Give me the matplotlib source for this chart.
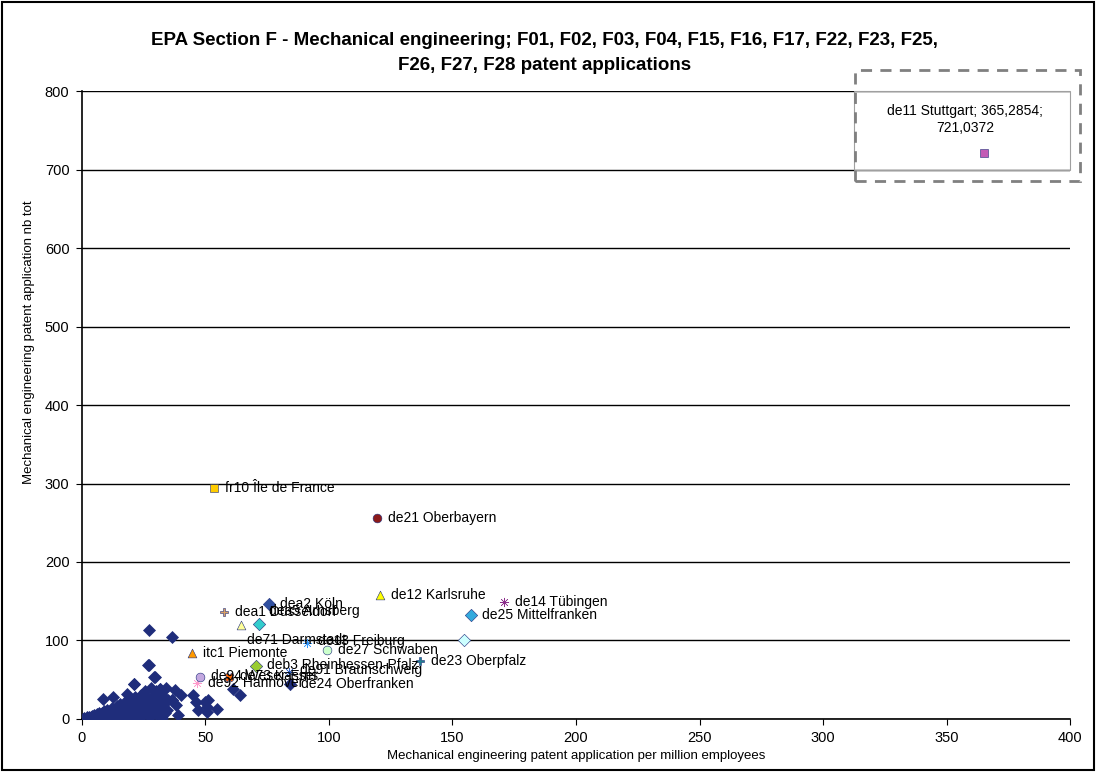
import numpy as np
import matplotlib
matplotlib.use("Agg")
import matplotlib.pyplot as plt
from matplotlib.patches import Rectangle

plt.rcParams['font.family'] = ['Liberation Sans', 'DejaVu Sans']

# unlabelled regions (series 1, navy diamonds)
cluster_x = [0.5, 1, 1.5, 2, 2.5, 3, 3, 3.5, 4, 4, 4.5, 5, 5, 5.5, 6, 6, 6.5, 7, 7, 7.5,
             8, 8, 8.5, 9, 9, 9.5, 10, 10, 10.5, 11, 11, 11.5, 12, 12, 12.5, 13, 13, 13.5,
             14, 14, 14.5, 15, 15, 15.5, 16, 16, 16.5, 17, 17, 17.5, 18, 18, 18.5, 19, 19,
             19.5, 20, 20, 20.5, 21, 21, 21.5, 22, 22, 22.5, 23, 23, 23.5, 24, 24, 24.5, 25,
             25, 25.5, 26, 26, 26.5, 27, 27, 27, 27.5, 28, 28, 28.5, 29, 29, 29.5, 30, 30,
             30.5, 31, 31.5, 32, 32.5, 32.8, 33, 33.5, 34, 34.5, 35, 36.5, 36.5, 37.7, 38,
             39, 40, 45, 46, 47, 49.8, 50.6, 51, 54.7, 61, 64, 50.6, 26.7, 29.6, 21, 18.2,
             8.6, 12.6, 31.6, 33.2, 36.4]
cluster_y = [0.5, 1, 0.5, 2, 1, 3, 0.5, 2, 4, 1, 2.5, 5, 1.5, 3, 6, 2, 4, 7, 1, 3.5,
             8, 2.5, 5, 10, 1.5, 6, 12, 3, 7, 9, 1, 4, 14, 6, 2, 11, 8, 4.5,
             17, 1.5, 9, 13, 5, 19, 7, 2, 15, 10, 4, 22, 12, 1, 17, 6, 25,
             14, 9, 3, 20, 45, 11, 28, 16, 5, 24, 8, 2, 19, 13, 30, 4, 22,
             10, 35, 17, 7, 28, 113, 69, 13, 3, 40, 24, 10, 53, 31, 18, 6, 36,
             26, 14, 38, 22, 1, 20, 28, 8, 39, 12, 24, 104, 24, 37, 18,
             5, 30, 31, 22, 12, 22, 9, 24, 13, 38, 31, 15, 69, 53, 45, 32,
             25, 28, 38, 28, 24]

# labelled regions
names = ["de11 Stuttgart; 365,2854;\n721,0372", "fr10 \u00cele de France", "de21 Oberbayern",
         "de12 Karlsruhe", "de14 T\u00fcbingen", "de25 Mittelfranken", "de23 Oberpfalz", "",
         "dea2 K\u00f6ln", "dea1 D\u00fcsseldorf", "de71 Darmstadt", "dea5 Arnsberg",
         "de13 Freiburg", "de27 Schwaben", "deb3 Rheinhessen-Pfalz", "de91 Braunschweig",
         "de92 Hannover", "de94 Weser-Ems", "de73 Kassel", "itc1 Piemonte", "de24 Oberfranken"]
reg_x = [365.2854, 53.4, 119.4, 120.6, 170.9, 157.5, 136.8, 154.7,
         75.7, 57.5, 64.4, 71.7, 91.1, 99.2, 70.4, 83.8,
         46.6, 47.8, 59.5, 44.5, 84.2]
reg_y = [721.0372, 294, 256, 158, 149, 132.5, 74, 100,
         146.5, 136, 120, 121, 97, 88, 67.5, 60,
         46, 53.5, 53.5, 84, 44.6]
reg_colors = ["#C35BB5", "#FFCC00", "#8B1A1A", "#FFFF00", "#8B2D8B", "#33AADD", "#1F7F8F", "#CCFFFF",
              "#3050A0", "#D9A066", "#FFFF99", "#33CCCC", "#3399FF", "#CCFFCC", "#99CC33", "#3366CC",
              "#FF99CC", "#C3A8E0", "#FF6600", "#FF9900", "#1F2D7B"]
reg_markers = ["s", "s", "o", "^", (8, 2, 0), "D", "P", "D",
               "D", "P", "^", "D", (8, 2, 0), "o", "D", (8, 2, 0),
               (8, 2, 0), "o", "X", "^", "D"]
# label offsets in points
label_dx = [-14, 8, 8, 8, 8, 8, 8, 0, 8, 8, 4, 7, 8, 8, 8, 8, 8, 8, 8, 8, 8]
label_dy = [24, 0, 0, 0, 0, 0, 0, 0, 0, 0, -11, 9, 1, 0, 1, 1, 0, 1, 1, 0, 0]

fig = plt.figure(figsize=(10.96, 7.72), dpi=100)
ax = fig.add_axes([0.0748, 0.0687, 0.9015, 0.8133])

ax.scatter(cluster_x, cluster_y, marker="D", s=44, color="#1F2D7B", zorder=3, linewidths=0)

for i in range(len(names)):
    ax.scatter(reg_x[i], reg_y[i], marker=reg_markers[i], s=40, color=reg_colors[i],
               edgecolors="#1F2D7B", linewidths=0.4, zorder=4)
    if names[i]:
        ax.annotate(names[i], (reg_x[i], reg_y[i]), xytext=(label_dx[i], label_dy[i]),
                    textcoords="offset points", fontsize=10, va="center",
                    ha="center" if i == 0 else "left", linespacing=1.3, zorder=5)

ax.set_xlim(0, 400)
ax.set_ylim(0, 800)
ax.set_xticks(np.arange(0, 401, 50))
ax.set_yticks(np.arange(0, 801, 100))
ax.tick_params(labelsize=10.5, length=4, pad=5)
ax.yaxis.grid(True, color="black", linewidth=1)
ax.set_axisbelow(True)
for s in ["top", "right"]:
    ax.spines[s].set_visible(False)
ax.spines["left"].set_linewidth(1.2)
ax.spines["bottom"].set_linewidth(1.2)

ax.set_xlabel("Mechanical engineering patent application per million employees", fontsize=9.5, labelpad=3)
ax.set_ylabel("Mechanical engineering patent application nb tot", fontsize=9.5)
ax.yaxis.set_label_coords(-0.048, 0.6)

# highlight boxes around Stuttgart
ax.add_patch(Rectangle((312.5, 700), 87.5, 100, fill=False, edgecolor="#A0A0A0",
                       linewidth=0.8, clip_on=False, zorder=2))
ax.add_patch(Rectangle((313, 686), 91, 141, fill=False, edgecolor="#808080",
                       linewidth=2, linestyle=(0, (4, 3)), clip_on=False, zorder=6))

fig.suptitle("EPA Section F - Mechanical engineering; F01, F02, F03, F04, F15, F16, F17, F22, F23, F25,\n"
             "F26, F27, F28 patent applications", x=0.497, y=0.958, fontsize=13.5,
             fontweight="bold", linespacing=1.6)

fig.patches.append(Rectangle((0.002, 0.002), 0.996, 0.996, transform=fig.transFigure,
                             fill=False, edgecolor="black", linewidth=1.5))

fig.savefig("out.png", dpi=100)
